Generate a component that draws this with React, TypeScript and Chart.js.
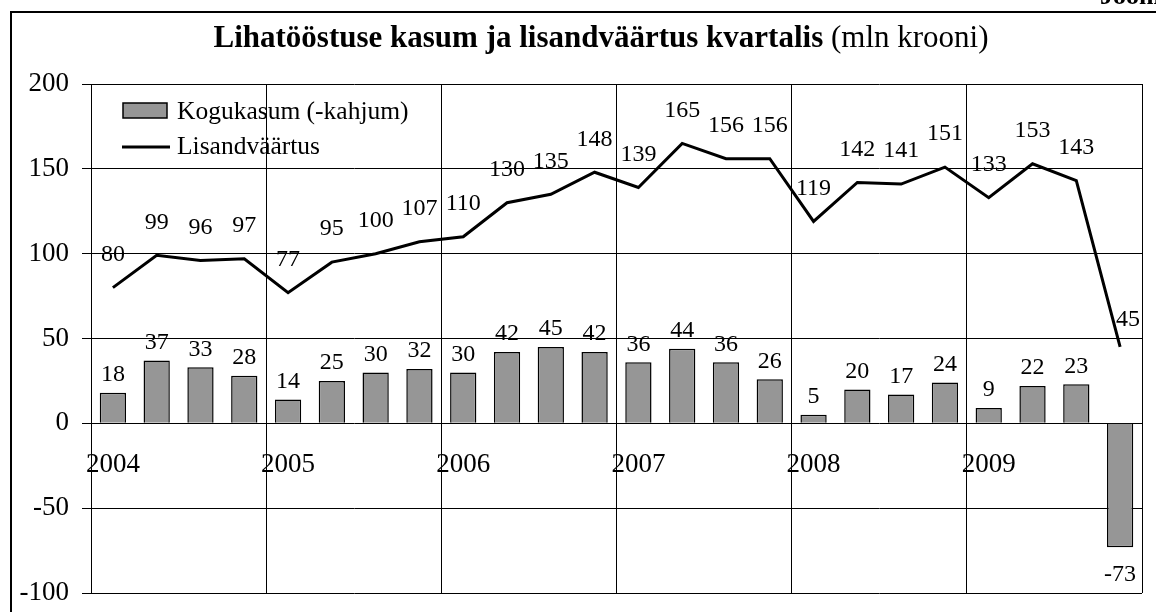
import React, { useEffect, useRef } from "react";
import { Chart, registerables } from "chart.js";

Chart.register(...registerables);

const quarters: string[] = [
  "2004 I", "2004 II", "2004 III", "2004 IV",
  "2005 I", "2005 II", "2005 III", "2005 IV",
  "2006 I", "2006 II", "2006 III", "2006 IV",
  "2007 I", "2007 II", "2007 III", "2007 IV",
  "2008 I", "2008 II", "2008 III", "2008 IV",
  "2009 I", "2009 II", "2009 III", "2009 IV",
];
const yearLabels: string[] = ["2004", "2005", "2006", "2007", "2008", "2009"];
const kogukasum: number[] = [18, 37, 33, 28, 14, 25, 30, 32, 30, 42, 45, 42, 36, 44, 36, 26, 5, 20, 17, 24, 9, 22, 23, -73];
const lisandvaartus: number[] = [80, 99, 96, 97, 77, 95, 100, 107, 110, 130, 135, 148, 139, 165, 156, 156, 119, 142, 141, 151, 133, 153, 143, 45];
const yTicks: number[] = [-100, -50, 0, 50, 100, 150, 200];

const titleBold = "Lihatööstuse kasum ja lisandväärtus kvartalis";
const titleNormal = " (mln krooni)";
const barLabel = "Kogukasum (-kahjum)";
const lineLabel = "Lisandväärtus";
const cornerText = "Joonis";

const SERIF = '"Liberation Serif", "Times New Roman", serif';
const BAR_FILL = "#969696";

const decorPlugin = {
  id: "decor",
  beforeDraw(chart: any) {
    const ctx = chart.ctx;
    ctx.save();
    ctx.fillStyle = "#fff";
    ctx.fillRect(0, 0, chart.width, chart.height);
    // outer frame
    ctx.fillStyle = "#000";
    ctx.fillRect(10, 11, chart.width - 10, 2);
    ctx.fillRect(10, 11, 2, chart.height - 11);
    // corner text
    ctx.font = `bold 26px ${SERIF}`;
    ctx.textBaseline = "alphabetic";
    ctx.textAlign = "left";
    ctx.fillText(cornerText, 1100, 4);
    // title
    ctx.font = `bold 31px ${SERIF}`;
    const wb = ctx.measureText(titleBold).width;
    ctx.font = `31px ${SERIF}`;
    const wn = ctx.measureText(titleNormal).width;
    const startX = 601 - (wb + wn) / 2;
    ctx.font = `bold 31px ${SERIF}`;
    ctx.fillText(titleBold, startX, 47);
    ctx.font = `31px ${SERIF}`;
    ctx.fillText(titleNormal, startX + wb, 47);
    ctx.restore();
  },
  afterDraw(chart: any) {
    const ctx = chart.ctx;
    const xs = chart.scales.x;
    const ys = chart.scales.y;
    const area = chart.chartArea;
    ctx.save();
    // right border of plot
    ctx.strokeStyle = "#000";
    ctx.lineWidth = 1;
    ctx.beginPath();
    ctx.moveTo(Math.round(area.right) + 0.5, area.top);
    ctx.lineTo(Math.round(area.right) + 0.5, area.bottom);
    ctx.stroke();

    // year labels
    ctx.fillStyle = "#000";
    ctx.font = `27px ${SERIF}`;
    ctx.textAlign = "center";
    ctx.textBaseline = "middle";
    const zeroY = ys.getPixelForValue(0);
    yearLabels.forEach((yl, i) => {
      const x = xs.getPixelForValue(i * 4);
      ctx.fillText(yl, x, zeroY + 42);
    });

    // bar labels
    ctx.font = `24px ${SERIF}`;
    const barMeta = chart.getDatasetMeta(1);
    barMeta.data.forEach((el: any, i: number) => {
      const v = kogukasum[i];
      if (v >= 0) {
        ctx.fillText(String(v), el.x, el.y - 18);
      } else {
        ctx.fillText(String(v), el.x, el.y + 28);
      }
    });

    // line labels
    const lineMeta = chart.getDatasetMeta(0);
    lineMeta.data.forEach((el: any, i: number) => {
      const v = lisandvaartus[i];
      if (i === lisandvaartus.length - 1) {
        ctx.fillText(String(v), el.x + 8, el.y - 27);
      } else {
        ctx.fillText(String(v), el.x, el.y - 33);
      }
    });

    // legend
    ctx.fillStyle = BAR_FILL;
    ctx.fillRect(123, 103, 44, 15);
    ctx.strokeStyle = "#000";
    ctx.lineWidth = 1.5;
    ctx.strokeRect(123, 103, 44, 15);
    ctx.lineWidth = 3;
    ctx.beginPath();
    ctx.moveTo(122, 147);
    ctx.lineTo(170, 147);
    ctx.stroke();
    ctx.fillStyle = "#000";
    ctx.font = `25.5px ${SERIF}`;
    ctx.textAlign = "left";
    ctx.textBaseline = "middle";
    ctx.fillText(barLabel, 177, 112);
    ctx.fillText(lineLabel, 177, 147);
    ctx.restore();
  },
};

export default function App() {
  const ref = useRef<HTMLCanvasElement | null>(null);
  useEffect(() => {
    if (!ref.current) return;
    const chart = new Chart(ref.current, {
      type: "bar",
      data: {
        labels: quarters,
        datasets: [
          {
            type: "line",
            label: lineLabel,
            data: lisandvaartus,
            borderColor: "#000",
            borderWidth: 3,
            pointRadius: 0,
            tension: 0,
            fill: false,
            order: 0,
          } as any,
          {
            type: "bar",
            label: barLabel,
            data: kogukasum,
            backgroundColor: BAR_FILL,
            borderColor: "#000",
            borderWidth: 1.5,
            barPercentage: 0.6,
            categoryPercentage: 1,
            order: 1,
          },
        ],
      },
      options: {
        responsive: false,
        animation: false,
        layout: { padding: { left: 0, top: 84, right: 14, bottom: 19 } },
        plugins: {
          legend: { display: false },
          title: { display: false },
          tooltip: { enabled: false },
        },
        scales: {
          x: {
            type: "category",
            offset: true,
            ticks: { display: false },
            border: { display: false },
            grid: {
              offset: true,
              drawTicks: false,
              lineWidth: 1,
              color: (c: any) =>
                c.index !== undefined && c.index % 4 === 0 ? "#000" : "rgba(0,0,0,0)",
            },
            afterFit: (s: any) => {
              s.height = 0;
              s.paddingLeft = 0;
              s.paddingRight = 0;
              s.paddingTop = 0;
              s.paddingBottom = 0;
            },
          },
          y: {
            min: -100,
            max: 200,
            afterBuildTicks: (s: any) => {
              s.ticks = yTicks.map((v) => ({ value: v }));
            },
            ticks: {
              color: "#000",
              font: { family: SERIF, size: 27 },
              padding: 13,
            },
            border: { display: true, color: "#000", width: 1 },
            grid: {
              color: "#000",
              lineWidth: 1,
              tickLength: 9,
            },
            afterFit: (s: any) => {
              s.width = 91;
              s.paddingTop = 0;
              s.paddingBottom = 0;
              s.paddingLeft = 0;
              s.paddingRight = 0;
            },
          },
        },
      },
      plugins: [decorPlugin],
    });
    return () => chart.destroy();
  }, []);
  return (
    <div style={{ position: "absolute", left: 0, top: 0, width: 1156, height: 612 }}>
      <canvas ref={ref} width={1156} height={612} style={{ width: 1156, height: 612, display: "block" }} />
    </div>
  );
}
